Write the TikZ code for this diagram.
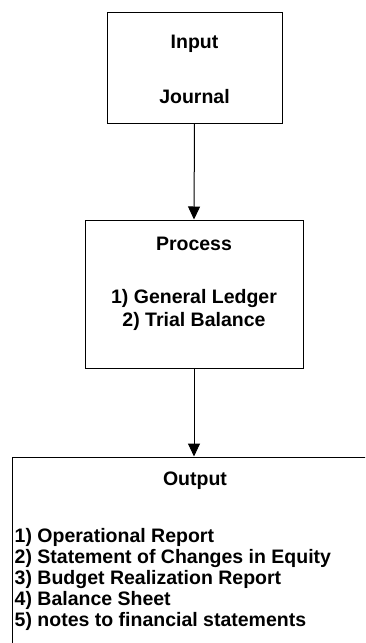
\documentclass[tikz,border=0pt]{standalone}
\usepackage{fontspec}
\setmainfont{Liberation Sans}
\usetikzlibrary{arrows.meta}
\begin{document}
\begin{tikzpicture}[x=1pt,y=-1pt,
  box/.style={draw=black, line width=1pt, inner sep=0pt},
  lbl/.style={font=\fontsize{19.5}{22}\selectfont\bfseries, inner sep=0pt},
  arr/.style={-{Triangle[width=12pt,length=13pt]}, line width=1pt}]
\clip (0,0) rectangle (365,643);
\node[box, minimum width=175pt, minimum height=111pt] (in) at (194.5,67.5) {};
\node[box, minimum width=218pt, minimum height=148pt] (proc) at (194,294) {};
\node[box, minimum width=366pt, minimum height=203pt] (out) at (195,558.5) {};
\node[lbl, anchor=base] (tin) at (194.5,48) {Input};
\node[lbl, anchor=base] (tjo) at (194.5,103) {Journal};
\node[lbl, anchor=base] (tpr) at (194,250) {Process};
\node[lbl, anchor=base] (tgl) at (194,303) {1) General Ledger};
\node[lbl, anchor=base] (ttb) at (194,326) {2) Trial Balance};
\node[lbl, anchor=base] (tout) at (195,485) {Output};
\node[lbl, anchor=base west] (o1) at (14.5,542) {1) Operational Report};
\node[lbl, anchor=base west] (o2) at (14.5,563) {2) Statement of Changes in Equity};
\node[lbl, anchor=base west] (o3) at (14.5,584) {3) Budget Realization Report};
\node[lbl, anchor=base west] (o4) at (14.5,605) {4) Balance Sheet};
\node[lbl, anchor=base west] (o5) at (14.5,626) {5) notes to financial statements};
\draw[arr] (in.south) -- (proc.north);
\draw[arr] (proc.south) -- (proc.south |- out.north);
\end{tikzpicture}
\end{document}
